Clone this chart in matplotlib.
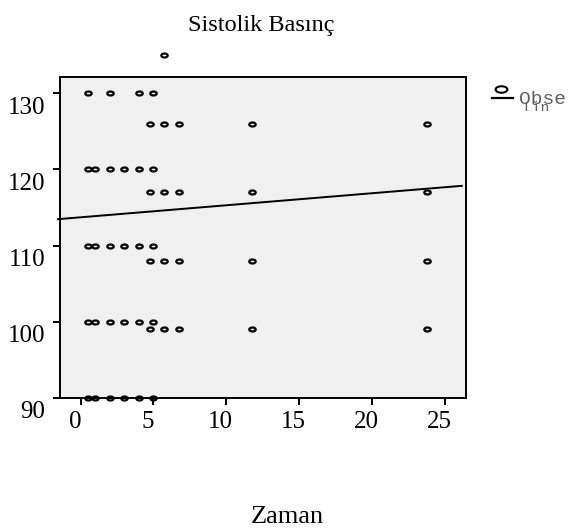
import numpy as np
import matplotlib
matplotlib.use("Agg")
import matplotlib.pyplot as plt
from matplotlib.path import Path
from matplotlib.transforms import Affine2D, ScaledTranslation, Bbox

# ---- data ----
zaman = [0.5, 2, 4, 5,
         0.5, 1, 2, 3, 4, 5,
         0.5, 1, 2, 3, 4, 5,
         0.5, 1, 2, 3, 4, 5,
         0.5, 1, 2, 3, 4, 5,
         4.75, 5.75, 6.75, 11.75, 23.75,
         4.75, 5.75, 6.75, 11.75, 23.75,
         4.75, 5.75, 6.75, 11.75, 23.75,
         4.75, 5.75, 6.75, 11.75, 23.75,
         5.75]
sistolik = [130, 130, 130, 130,
            120, 120, 120, 120, 120, 120,
            110, 110, 110, 110, 110, 110,
            100, 100, 100, 100, 100, 100,
            90, 90, 90, 90, 90, 90,
            126, 126, 126, 126, 126,
            117, 117, 117, 117, 117,
            108, 108, 108, 108, 108,
            99, 99, 99, 99, 99,
            135]
fit_intercept = 113.72
fit_slope = 0.158
x_ticks = [0, 5, 10, 15, 20, 25]
y_ticks = [90, 100, 110, 120, 130]
title_text = "Sistolik Basınç"
xlabel_text = "Zaman"
legend_labels = ["Obse", "Lin"]

plt.rcParams['font.family'] = ['Liberation Serif', 'DejaVu Serif']

fig = plt.figure(figsize=(5.87, 5.31), dpi=100)
ax = fig.add_axes([0.1022, 0.2505, 0.6912, 0.6045])
ax.set_facecolor('#f0f0f0')

ell = Path.unit_circle().transformed(Affine2D().scale(1.0, 0.62))

ax.set_xlim(-1.41, 26.42)
ax.set_ylim(90, 132.14)

ax.plot(zaman, sistolik, linestyle='none', marker=ell, markersize=4.6,
        markerfacecolor='none', markeredgecolor='black', markeredgewidth=1.6,
        clip_on=False, zorder=4)

xl = np.array([-1.55, 26.15])
ax.plot(xl, fit_intercept + fit_slope * xl, color='black', lw=1.4,
        clip_on=False, zorder=3)

for s in ax.spines.values():
    s.set_linewidth(1.4)
    s.set_color('black')

ax.set_xticks(x_ticks)
ax.set_yticks(y_ticks)
ax.set_xticklabels([str(v) for v in x_ticks])
ax.set_yticklabels([str(v) for v in y_ticks])
ax.tick_params(axis='both', direction='out', length=5, width=1.4,
               labelsize=18, colors='black')
ax.tick_params(axis='y', pad=5.4)
ax.tick_params(axis='x', pad=4.5)

for lbl in ax.get_yticklabels():
    lbl.set_verticalalignment('top')
    lbl.set_transform(lbl.get_transform() +
                      ScaledTranslation(0, -0.035, fig.dpi_scale_trans))
for lbl in ax.get_xticklabels():
    lbl.set_transform(lbl.get_transform() +
                      ScaledTranslation(-0.055, 0, fig.dpi_scale_trans))

fig.text(261.7 / 587, 1 - 30.7 / 531, title_text, ha='center', va='baseline',
         fontsize=17.5)
fig.text(287.5 / 587, 1 - 523 / 531, xlabel_text, ha='center', va='baseline',
         fontsize=19)

# legend (SPSS style, outside at right, clipped entries)
lx = fig.add_axes([0, 0, 1, 1], facecolor='none')
lx.set_axis_off()
lx.set_xlim(0, 587)
lx.set_ylim(531, 0)
lx.plot([501], [89], linestyle='none', marker=Path.unit_circle().transformed(
        Affine2D().scale(1.0, 0.55)), markersize=8.5,
        markerfacecolor='none', markeredgecolor='black', markeredgewidth=1.5)
lx.plot([492, 513], [98, 98], color='black', lw=1.6)
lx.text(519, 104, legend_labels[0], family='Liberation Mono', fontsize=14,
        color='#606060', va='baseline', ha='left')
t2 = lx.text(523, 112, legend_labels[1], family='Liberation Mono',
             fontsize=10.5, color='#606060', va='baseline', ha='left')
t2.set_clip_box(Bbox.from_extents(0, 531 - 111, 587, 531))
t2.set_clip_on(True)

fig.savefig('out.png', dpi=100)
